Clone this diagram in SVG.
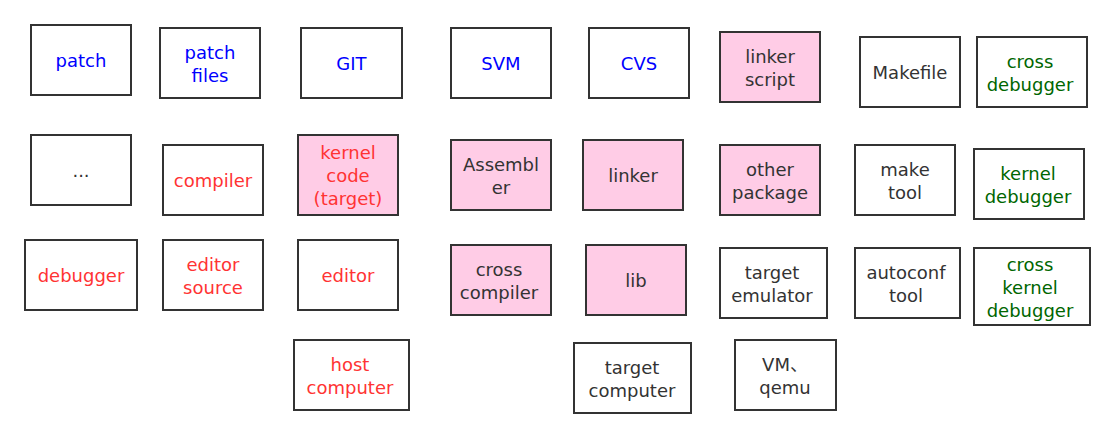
<svg xmlns="http://www.w3.org/2000/svg" width="1115" height="438" viewBox="0 0 1115 438">
<style>
rect{fill:#ffffff;stroke:#333333;stroke-width:2}
rect.p{fill:#ffcce6}
text{font-family:"DejaVu Sans","Noto Sans CJK SC",sans-serif;font-size:18px;text-anchor:middle;fill:#333333}
.b{fill:#0000ff}
.r{fill:#ff3333}
.g{fill:#006600}
</style>
<rect x="0" y="0" width="1115" height="438" style="fill:#ffffff;stroke:none"/>
<g id="connectors"/>
<g id="patch"><rect x="31" y="25" width="100" height="70"/><text class="b" x="81" y="67">patch</text></g>
<g id="patch-files"><rect x="160" y="28" width="100" height="70"/><text class="b" x="210" y="58.5">patch</text><text class="b" x="210" y="81.5">files</text></g>
<g id="git"><rect x="301" y="28" width="101" height="70"/><text class="b" x="351.5" y="70">GIT</text></g>
<g id="svm"><rect x="451" y="28" width="100" height="70"/><text class="b" x="501" y="70">SVM</text></g>
<g id="cvs"><rect x="589" y="28" width="100" height="70"/><text class="b" x="639" y="70">CVS</text></g>
<g id="linker-script"><rect class="p" x="720" y="32" width="100" height="70"/><text x="770" y="62.5">linker</text><text x="770" y="85.5">script</text></g>
<g id="makefile"><rect x="860" y="37" width="100" height="70"/><text x="910" y="79">Makefile</text></g>
<g id="cross-debugger"><rect x="977" y="37" width="110" height="70"/><text class="g" x="1030" y="67.5">cross</text><text class="g" x="1030" y="90.5">debugger</text></g>
<g id="etc"><rect x="31" y="135" width="100" height="70"/><text x="81" y="177">...</text></g>
<g id="compiler"><rect x="163" y="145" width="100" height="70"/><text class="r" x="213" y="187">compiler</text></g>
<g id="kernel-code"><rect class="p" x="298" y="135" width="100" height="80"/><text class="r" x="348" y="158.5">kernel</text><text class="r" x="348" y="181.5">code</text><text class="r" x="348" y="204.5">(target)</text></g>
<g id="assembler"><rect class="p" x="451" y="140" width="100" height="70"/><text x="501" y="170.5">Assembl</text><text x="501" y="193.5">er</text></g>
<g id="linker"><rect class="p" x="583" y="140" width="100" height="70"/><text x="633" y="182">linker</text></g>
<g id="other-package"><rect class="p" x="720" y="145" width="100" height="70"/><text x="770" y="175.5">other</text><text x="770" y="198.5">package</text></g>
<g id="make-tool"><rect x="855" y="145" width="100" height="70"/><text x="905" y="175.5">make</text><text x="905" y="198.5">tool</text></g>
<g id="kernel-debugger"><rect x="974" y="149" width="110" height="70"/><text class="g" x="1028" y="179.5">kernel</text><text class="g" x="1028" y="202.5">debugger</text></g>
<g id="debugger"><rect x="25" y="240" width="112" height="70"/><text class="r" x="81" y="282">debugger</text></g>
<g id="editor-source"><rect x="163" y="240" width="100" height="70"/><text class="r" x="213" y="270.5">editor</text><text class="r" x="213" y="293.5">source</text></g>
<g id="editor"><rect x="298" y="240" width="100" height="70"/><text class="r" x="348" y="282">editor</text></g>
<g id="cross-compiler"><rect class="p" x="451" y="245" width="100" height="70"/><text x="499" y="275.5">cross</text><text x="499" y="298.5">compiler</text></g>
<g id="lib"><rect class="p" x="586" y="245" width="100" height="70"/><text x="636" y="287">lib</text></g>
<g id="target-emulator"><rect x="720" y="248" width="107" height="70"/><text x="772" y="278.5">target</text><text x="772" y="301.5">emulator</text></g>
<g id="autoconf-tool"><rect x="855" y="248" width="105" height="70"/><text x="906" y="278.5">autoconf</text><text x="906" y="301.5">tool</text></g>
<g id="cross-kernel-debugger"><rect x="974" y="248" width="116" height="77"/><text class="g" x="1030" y="270.5">cross</text><text class="g" x="1030" y="293.5">kernel</text><text class="g" x="1030" y="316.5">debugger</text></g>
<g id="host-computer"><rect x="294" y="340" width="115" height="70"/><text class="r" x="350" y="370.5">host</text><text class="r" x="350" y="393.5">computer</text></g>
<g id="target-computer"><rect x="574" y="343" width="117" height="70"/><text x="632" y="373.5">target</text><text x="632" y="396.5">computer</text></g>
<g id="vm-qemu"><rect x="735" y="340" width="101" height="70"/><text x="785" y="370.5">VM、</text><text x="785" y="393.5">qemu</text></g>
</svg>
